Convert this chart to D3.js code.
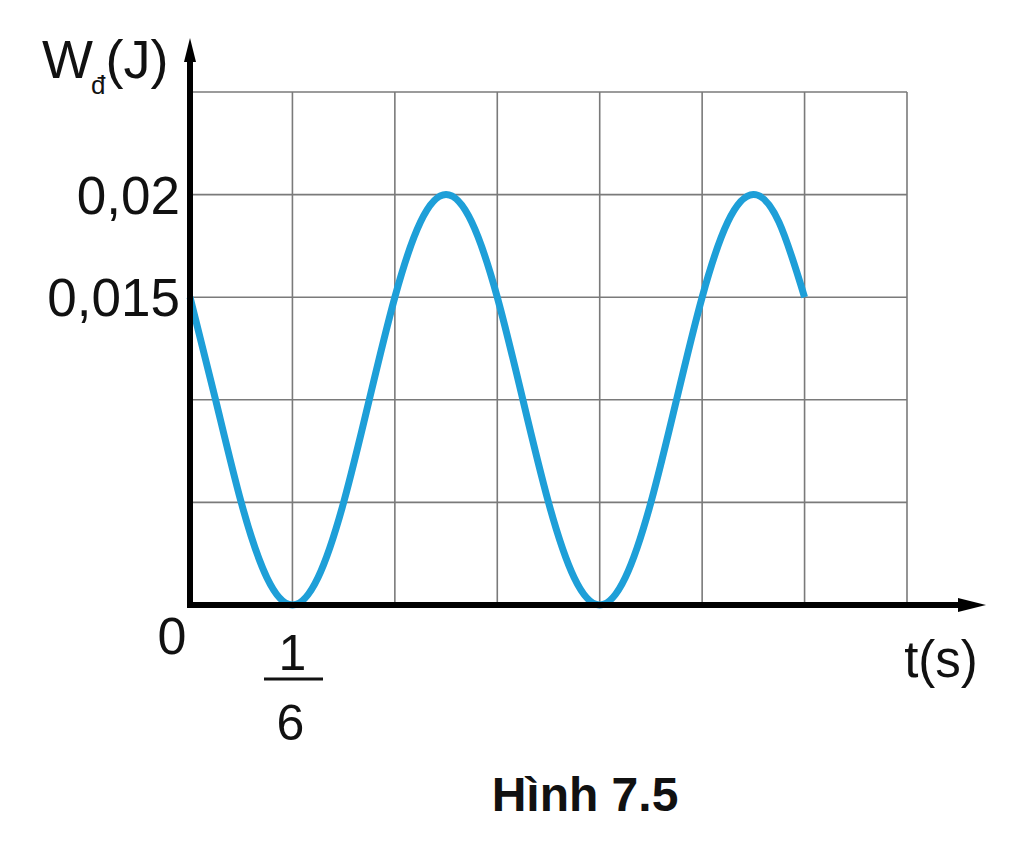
<!DOCTYPE html>
<html><head><meta charset="utf-8">
<script src="https://cdn.jsdelivr.net/npm/d3@7"></script>
<style>body{margin:0;background:#fff}svg{display:block}text{font-family:"Liberation Sans",Arial,sans-serif;fill:#111}</style>
</head><body>
<svg id="c" width="1024" height="845"></svg>
<script>
// time in units of 1/24 s
const tValues = [0,1,2,3,4,5,6,7,8,9,10,11,12,13,14,15,16,17,18,19,20,21,22,23,24].map(k=>k/24);
const wValues = [0.015,0.01,0.005,0.00134,0,0.00134,0.005,0.01,0.015,0.01866,0.02,0.01866,0.015,0.01,0.005,0.00134,0,0.00134,0.005,0.01,0.015,0.01866,0.02,0.01866,0.015];
const xGridTicks = [0,1/6,2/6,3/6,4/6,5/6,1,7/6];
const yGridTicks = [0,0.005,0.01,0.015,0.02,0.025];
const yTickLabels = [{v:0.02,label:"0,02"},{v:0.015,label:"0,015"}];

const svg = d3.select("#c");
const x = d3.scaleLinear().domain([0,7/6]).range([190,907]);
const y = d3.scaleLinear().domain([0,0.025]).range([605,92]);

// grid
const g = svg.append("g").attr("stroke","#7a7a7a").attr("stroke-width",1.6);
g.selectAll("line.v").data(xGridTicks.slice(1)).join("line")
  .attr("x1",d=>x(d)).attr("x2",d=>x(d)).attr("y1",y(0.025)).attr("y2",y(0));
g.selectAll("line.h").data(yGridTicks.slice(1)).join("line")
  .attr("x1",x(0)).attr("x2",x(7/6)).attr("y1",d=>y(d)).attr("y2",d=>y(d));

// curve
const pts = tValues.map((t,i)=>[t,wValues[i]]);
svg.append("path").datum(pts)
  .attr("fill","none").attr("stroke","#1e9fd8").attr("stroke-width",7).attr("stroke-linecap","butt")
  .attr("d", d3.line().x(d=>x(d[0])).y(d=>y(d[1])).curve(d3.curveNatural));

// axes
svg.append("line").attr("x1",x(0)).attr("x2",x(0)).attr("y1",y(0)+3).attr("y2",58).attr("stroke","#000").attr("stroke-width",6);
svg.append("line").attr("x1",x(0)-3).attr("x2",965).attr("y1",y(0)).attr("y2",y(0)).attr("stroke","#000").attr("stroke-width",6);
// arrows
svg.append("path").attr("d",`M${x(0)},38 L${x(0)+6},62 L${x(0)-6},62 Z`).attr("fill","#000");
svg.append("path").attr("d",`M986,${y(0)} L958,${y(0)-7} L958,${y(0)+7} Z`).attr("fill","#000");

// y labels
svg.selectAll("text.yl").data(yTickLabels).join("text")
  .attr("x",180).attr("y",d=>y(d.v)+19).attr("text-anchor","end").attr("font-size",53).text(d=>d.label);

// y title
const yt = svg.append("text").attr("x",42).attr("y",78).attr("font-size",54);
yt.append("tspan").text("W");
yt.append("tspan").attr("font-size",26).attr("dy",16).attr("dx",-2).text("đ");
yt.append("tspan").attr("dy",-16).text("(J)");

// origin & fraction
svg.append("text").attr("x",172).attr("y",654).attr("text-anchor","middle").attr("font-size",52).text("0");
svg.append("text").attr("x",x(1/6)).attr("y",670).attr("text-anchor","middle").attr("font-size",50).text("1");
svg.append("line").attr("x1",264).attr("x2",323).attr("y1",679).attr("y2",679).attr("stroke","#111").attr("stroke-width",3);
svg.append("text").attr("x",x(1/6)-2).attr("y",740).attr("text-anchor","middle").attr("font-size",50).text("6");

// x title
svg.append("text").attr("x",941).attr("y",677).attr("text-anchor","middle").attr("font-size",51).text("t(s)");

// caption
svg.append("text").attr("x",585).attr("y",811).attr("text-anchor","middle").attr("font-size",48).attr("font-weight","bold").text("Hình 7.5");
</script>
</body></html>
